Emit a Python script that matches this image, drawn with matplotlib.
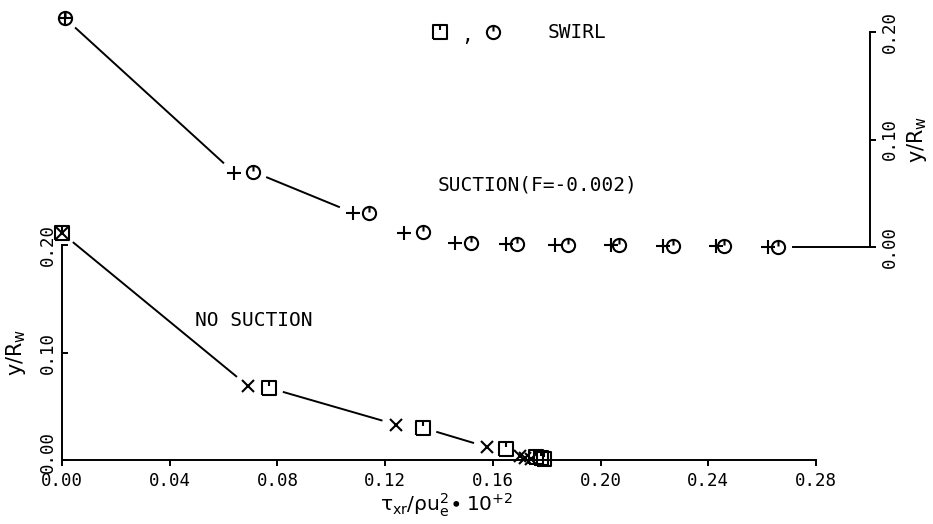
import numpy as np
import matplotlib
matplotlib.use("Agg")
import matplotlib.pyplot as plt
from matplotlib.path import Path
from matplotlib.transforms import ScaledTranslation

# no suction case (lower panel): crosses and swirl squares
ns_cross_x = [0.000, 0.069, 0.124, 0.158, 0.170, 0.172, 0.174]
ns_cross_y = [0.211, 0.069, 0.033, 0.012, 0.004, 0.002, 0.001]
ns_swirl_x = [0.000, 0.077, 0.134, 0.165, 0.176, 0.178, 0.179]
ns_swirl_y = [0.211, 0.067, 0.030, 0.010, 0.003, 0.002, 0.001]

# suction case (upper panel): plus and swirl circles
s_plus_x = [0.001, 0.064, 0.108, 0.127, 0.146, 0.165, 0.183, 0.204, 0.223, 0.243, 0.262]
s_plus_y = [0.213, 0.069, 0.032, 0.013, 0.004, 0.003, 0.002, 0.002, 0.001, 0.001, 0.000]
s_swirl_x = [0.001, 0.071, 0.114, 0.134, 0.152, 0.169, 0.188, 0.207, 0.227, 0.246, 0.266]
s_swirl_y = [0.213, 0.070, 0.032, 0.014, 0.004, 0.003, 0.002, 0.002, 0.001, 0.001, 0.000]

x_ticks = [0.00, 0.04, 0.08, 0.12, 0.16, 0.20, 0.24, 0.28]
y_ticks = [0.00, 0.10, 0.20]

MONO = "DejaVu Sans Mono"
LW = 1.4

# plotter style markers: square / circle with a small tick at the top
sq_tick = Path.make_compound_path(
    Path([(-1, -1), (1, -1), (1, 1), (-1, 1), (-1, -1)]),
    Path([(0, 1), (0, 0.25)]))
circ_tick = Path.make_compound_path(
    Path.unit_circle(),
    Path([(0, 1), (0, 0.15)]))


def draw_broken_line(ax, xs, ys, gap=15, min_len=55, open_end=False):
    # old plotter look: segments stop short of the markers, short ones are left out
    pts = ax.transData.transform(np.column_stack([xs, ys]))
    inv = ax.transData.inverted()
    n = len(pts)
    for i in range(n - 1):
        p0, p1 = pts[i], pts[i + 1]
        d = p1 - p0
        L = np.hypot(*d)
        if L < min_len:
            continue
        u = d / L
        g1 = 0 if (open_end and i == n - 2) else gap
        a = inv.transform(p0 + u * gap)
        b = inv.transform(p1 - u * g1)
        ax.plot([a[0], b[0]], [a[1], b[1]], color="black", lw=LW, clip_on=False)


def interleave(xa, ya, xb, yb):
    xs, ys = [], []
    for i in range(len(xa)):
        xs += [xa[i], xb[i]]
        ys += [ya[i], yb[i]]
    return xs, ys


fig = plt.figure(figsize=(9.33, 5.24), dpi=100)
W, H = 933, 524

# lower panel
ax = fig.add_axes([62 / W, (H - 460) / H, 754 / W, 215 / H])
ax.set_xlim(0, 0.28)
ax.set_ylim(0, 0.20)
for s in ["top", "right"]:
    ax.spines[s].set_visible(False)
for s in ["left", "bottom"]:
    ax.spines[s].set_linewidth(LW)
ax.set_xticks(x_ticks)
ax.set_xticklabels(["%.2f" % v for v in x_ticks], family=MONO, fontsize=12.5)
ax.set_yticks(y_ticks)
ax.set_yticklabels(["%.2f" % v for v in y_ticks], family=MONO, fontsize=12.5,
                   rotation=90, va="center")
ax.tick_params(axis="x", direction="out", length=4, width=LW, pad=5)
ax.tick_params(axis="y", direction="in", length=4, width=LW, pad=4)
ax.set_xlabel(r"$\mathregular{\tau_{xr}/\rho u_e^{2}\!\bullet 10^{+2}}$",
              fontsize=14.5, labelpad=0)
ax.set_ylabel(r"y/R$_\mathregular{w}$", fontsize=15, labelpad=2)
ax.yaxis.set_label_coords(-0.045, 0.5)
ax.xaxis.set_label_coords(0.51, -0.145)

# lift the bottom y label a little so it only just meets the x label
lab0 = ax.get_yticklabels()[0]
lab0.set_transform(lab0.get_transform() + ScaledTranslation(0, 6 / 72, fig.dpi_scale_trans))

# upper panel, shares the x scale but only the right axis is drawn
ax2 = fig.add_axes([62 / W, (H - 247) / H, 0.30 * 754 / 0.28 / W, 215 / H])
ax2.set_xlim(0, 0.30)
ax2.set_ylim(0, 0.20)
ax2.patch.set_visible(False)
for s in ["top", "left", "bottom"]:
    ax2.spines[s].set_visible(False)
ax2.spines["right"].set_linewidth(LW)
ax2.set_xticks([])
ax2.yaxis.tick_right()
ax2.yaxis.set_label_position("right")
ax2.set_yticks(y_ticks)
ax2.set_yticklabels(["%.2f" % v for v in y_ticks], family=MONO, fontsize=12.5,
                    rotation=90, va="center")
ax2.tick_params(axis="y", direction="out", length=4, width=LW, pad=4)
ax2.set_ylabel(r"y/R$_\mathregular{w}$", fontsize=15, labelpad=4)

fig.canvas.draw()

# lines
lx, ly = interleave(ns_cross_x, ns_cross_y, ns_swirl_x, ns_swirl_y)
draw_broken_line(ax, lx, ly)
ux, uy = interleave(s_plus_x, s_plus_y, s_swirl_x, s_swirl_y)
ux.append(ax2.get_xlim()[1])
uy.append(0.0)
draw_broken_line(ax2, ux, uy, open_end=True)

# markers
ax.plot(ns_cross_x, ns_cross_y, ls="none", marker="x", ms=9, mew=1.5,
        color="black", clip_on=False)
ax.plot(ns_swirl_x, ns_swirl_y, ls="none", marker=sq_tick, ms=9.5, mew=1.5,
        mfc="none", color="black", clip_on=False)
ax2.plot(s_plus_x, s_plus_y, ls="none", marker="+", ms=10, mew=1.5,
         color="black", clip_on=False)
ax2.plot(s_swirl_x, s_swirl_y, ls="none", marker=circ_tick, ms=9.5, mew=1.5,
         mfc="none", color="black", clip_on=False)

# annotations
fig.text(195 / W, 1 - 320 / H, "NO SUCTION", family=MONO, fontsize=14,
         va="center", ha="left")
fig.text(438 / W, 1 - 185 / H, "SUCTION(F=-0.002)", family=MONO, fontsize=14,
         va="center", ha="left")
fig.text(548 / W, 1 - 32 / H, "SWIRL", family=MONO, fontsize=14,
         va="center", ha="left")
fig.text(467 / W, 1 - 35 / H, ",", family=MONO, fontsize=14,
         va="center", ha="center")
fig.lines.append(plt.Line2D([440 / W], [1 - 32 / H], transform=fig.transFigure,
                            ls="none", marker=sq_tick, ms=9.5, mew=1.5,
                            mfc="none", color="black"))
fig.lines.append(plt.Line2D([493 / W], [1 - 32 / H], transform=fig.transFigure,
                            ls="none", marker=circ_tick, ms=9.5, mew=1.5,
                            mfc="none", color="black"))

fig.savefig("out.png", dpi=100)
